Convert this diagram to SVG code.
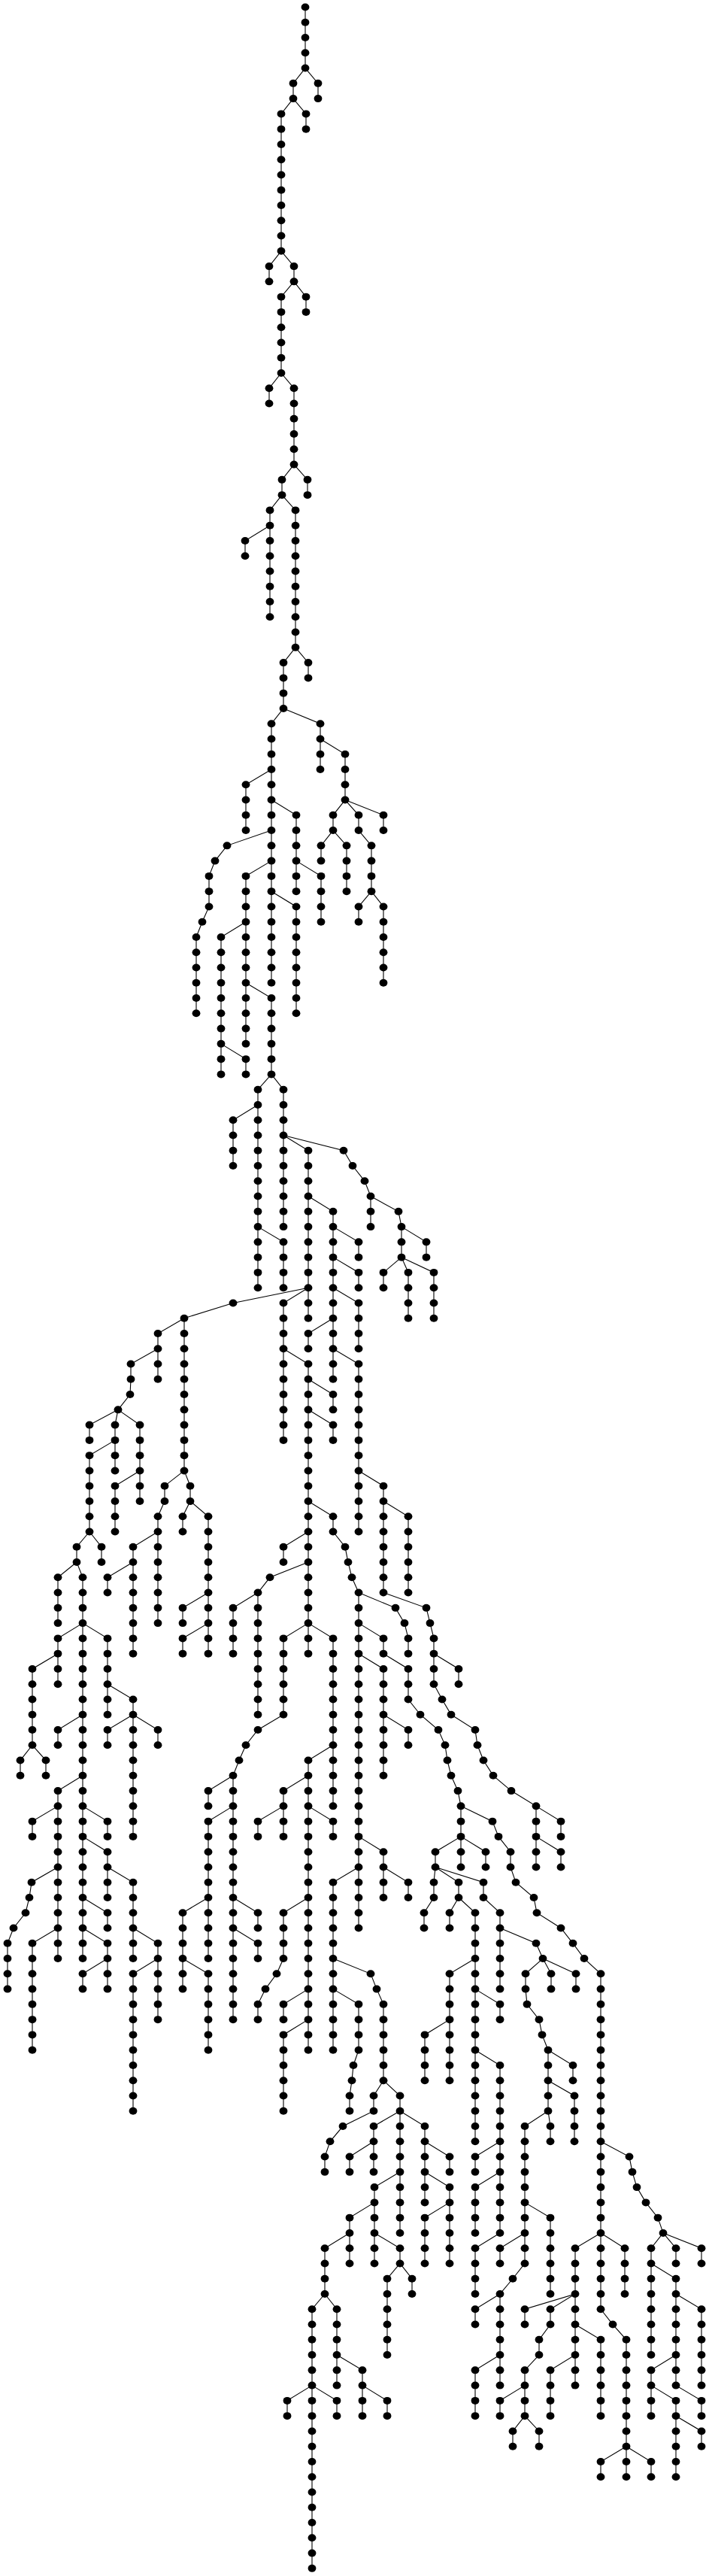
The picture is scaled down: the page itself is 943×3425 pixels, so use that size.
<svg xmlns="http://www.w3.org/2000/svg" width="943" height="3425" viewBox="0 0 943 3425">
<style>.e{fill:none;stroke:#000;stroke-width:1.1;vector-effect:non-scaling-stroke}</style>
<defs><ellipse id="d" cx="0" cy="0" rx="5.4" ry="0.2467" fill="#000"/></defs>
<rect width="943" height="3425" fill="#fff"/>
<g transform="translate(0 9.5) scale(1 20.27)">
<g id="connectors">
<path class="e" d="M406 0V4M406 4L423 5V6M406 4L390 5V6M390 6L407 7V8M390 6L374 7V16M374 16L358 17V18M374 16L391 17V18M391 18L407 19V20M391 18L374 19V24M374 24L358 25V26M374 24L391 25V30M391 30L409 31V32M391 30L375 31V32M375 32L359 33V40M359 34L326 35V36M375 32L393 33V42M393 42L410 43V44M393 42L377 43V46
M377 46L361 47V64M377 46L426 47V50M426 48L459 49V52M459 52L443 53V54M459 52L477 53V54M459 52L510 53V54M443 54L427 55V56M443 54L461 55V58M477 54L494 55V58M494 58L477 59V60M494 58L510 59V64M361 50L327 51V54M361 52L394 53V58M394 56L427 57V60M361 54L302 55L286 56L278 57V59L269 60L261 61V66M361 56L327 57V68M361 58L394 59V66M327 60L294 61V70M294 68L327 69V70M327 64L361 65V70
M361 70L343 71V84M361 70L377 71V80M343 72L310 73V76M377 74L410 75V86M377 74L457 75L469 76L485 77L493 78V80M493 78L530 79L534 80V82M534 80L567 81V82M534 82L510 83V84M534 82L543 83V86M534 82L577 83V86M343 80L377 81V84M410 78L443 79V90M443 80L477 81V82M443 82L477 83V84M443 84L477 85V88M443 86L410 87V88M443 88L477 89V100M410 84L377 85V94M377 88L410 89V108M410 90L443 91V92M410 92L443 93V94
M410 98L443 99V100L459 101L463 102L468 103L477 104V126M477 96L510 97V104M510 98L543 99V104M510 104L567 105L572 106L577 107V110L588 111L600 112L632 113L635 114L643 115L656 116L680 117L713 118V122M477 104L526 105L538 106L543 107V108M477 106L510 107V108M410 100L377 101V102M410 102L359 103L343 104V112M410 106L377 107V112M410 106L443 107V118
M410 84L310 85L245 86V96M245 86L210 87V90M210 88L174 89V90L173 91L157 92M157 92L119 93V94M157 92L153 93V96M157 92L186 93V98M153 94L119 95V100M186 96L153 97V100M119 100L135 101V102M119 100L102 101V102M102 102L77 103V106M110 106L77 107V110M102 102L110 103V128M110 106L143 107V112M245 96L219 97V98L210 99V106M210 100L177 101V108M177 102L143 103V104M245 96L253 97V98M253 98L243 99V100M253 98L277 99V108M277 104L243 105V106M277 106L243 107V108M343 104L310 105V108
M77 108L43 109V114M43 114L27 115V116M43 114L61 115V116M110 112L77 113V114M110 116L77 117V128M77 118L43 119V120M77 122L42 123L39 124L34 125L18 126L10 127V130M77 126L43 127V134M143 110L177 111V120M177 112L143 113V114M177 112L210 113V114M110 118L143 119V120M110 120L143 121V124M143 122L177 123V128M177 126L210 127V132M210 128L177 129V138M110 124L143 125V126M110 126L143 127V130M143 128L110 129V130
M377 112L343 113L327 114L318 115L310 116V132M310 116L277 117V118M310 118L277 119V128M277 124L243 125V130M243 128L277 129V134M310 124L343 125V126M310 126L343 127V128M410 116L377 117V120M377 118L343 119V120M410 124L377 125V128L368 129L353 130L343 131V132M410 130L377 131V132M410 132L377 133V138
M443 114L410 115V134M410 118L443 119V120M477 122L443 123V134M477 108L510 109V116M510 108L543 109V111L559 112L583 113L592 114L595 115L600 116L609 117L613 118V122M510 112L543 113V114M477 120L510 121V124M510 122L543 123V124M577 108L610 109V110M713 118L746 119V120M713 120L746 121V122M613 118L655 119L663 120L679 121V122L686 123L710 124L714 125L746 126L762 127L777 128L799 129V151M613 120L579 121V122M613 120L646 121V122M579 122L577 123V124L564 125V126M579 122L610 123V124M579 122L643 123V124L665 125V130M610 124L598 125V126M610 124L632 125V140
M665 126L713 127L722 128M722 128L733 129V130M722 128L766 129V130M722 128L699 129V130L701 131L717 132L721 133L729 134V138M729 134L762 135V136M729 136L764 137V140M729 138L698 139V148M729 138L732 139V140M632 128L598 129V136M598 132L565 133V136M632 130L665 131V132M632 134L665 135V146
M443 128L493 129L501 130L510 131V136M443 130L477 131V134L470 135L468 136L465 137V138M510 136L497 137V138L456 139L439 140L432 141V142M510 136L532 137V138M532 138L497 139V142M532 138V146M532 138L565 139V144M497 140L465 141V142M532 142L498 143V148M498 144L465 145V148M498 146L532 147V148M532 148L515 149V154M532 148L548 149V150M465 146L432 147V150M432 150L415 151V168M432 150L448 151V156M448 154L482 155V158M482 156L515 157V158M415 156L382 157V158M415 156L448 157V158
M565 140L598 141V142M565 142L598 143V148M598 144L565 145V148M665 140L632 141V142M665 142L632 143V146M665 146L632 147V150M665 150L632 151V152M665 154L632 155V158M698 146L665 147V148M698 148L682 149L665 150V156M698 156L665 157V158M698 144L732 145V150M765 150L698 151V152M765 150L732 151V152L717 153V154M717 154L698 155V158M698 158L682 159V160M698 158L717 159V160M765 154L732 155V158M799 146L765 147V156M799 146L831 147V150M799 151L815 152L833 153V162M765 152L799 153V158M833 160L799 161V162M833 160L866 161V162M799 140L837 141L841 142L847 143L859 144L875 145L882 146M882 146L866 147V154M882 146L899 147V148M882 146L933 147V148M866 148L899 149V156M899 150L933 151V156M899 154L866 155V158M866 156L899 157V162M899 156L933 157V158M899 158L933 159V160"/>
</g>
<g id="nodes">
<use id="n406_0" href="#d" x="406" y="0"/><use id="n406_1" href="#d" x="406" y="1"/><use id="n406_2" href="#d" x="406" y="2"/><use id="n406_3" href="#d" x="406" y="3"/><use id="n406_4" href="#d" x="406" y="4"/>
<use id="n423_5" href="#d" x="423" y="5"/><use id="n423_6" href="#d" x="423" y="6"/>
<use id="n390_5" href="#d" x="390" y="5"/><use id="n390_6" href="#d" x="390" y="6"/>
<use id="n407_7" href="#d" x="407" y="7"/><use id="n407_8" href="#d" x="407" y="8"/>
<use id="n374_7" href="#d" x="374" y="7"/><use id="n374_8" href="#d" x="374" y="8"/><use id="n374_9" href="#d" x="374" y="9"/><use id="n374_10" href="#d" x="374" y="10"/><use id="n374_11" href="#d" x="374" y="11"/><use id="n374_12" href="#d" x="374" y="12"/><use id="n374_13" href="#d" x="374" y="13"/><use id="n374_14" href="#d" x="374" y="14"/><use id="n374_15" href="#d" x="374" y="15"/><use id="n374_16" href="#d" x="374" y="16"/>
<use id="n358_17" href="#d" x="358" y="17"/><use id="n358_18" href="#d" x="358" y="18"/>
<use id="n391_17" href="#d" x="391" y="17"/><use id="n391_18" href="#d" x="391" y="18"/>
<use id="n407_19" href="#d" x="407" y="19"/><use id="n407_20" href="#d" x="407" y="20"/>
<use id="n374_19" href="#d" x="374" y="19"/><use id="n374_20" href="#d" x="374" y="20"/><use id="n374_21" href="#d" x="374" y="21"/><use id="n374_22" href="#d" x="374" y="22"/><use id="n374_23" href="#d" x="374" y="23"/><use id="n374_24" href="#d" x="374" y="24"/>
<use id="n358_25" href="#d" x="358" y="25"/><use id="n358_26" href="#d" x="358" y="26"/>
<use id="n391_25" href="#d" x="391" y="25"/><use id="n391_26" href="#d" x="391" y="26"/><use id="n391_27" href="#d" x="391" y="27"/><use id="n391_28" href="#d" x="391" y="28"/><use id="n391_29" href="#d" x="391" y="29"/><use id="n391_30" href="#d" x="391" y="30"/>
<use id="n409_31" href="#d" x="409" y="31"/><use id="n409_32" href="#d" x="409" y="32"/>
<use id="n375_31" href="#d" x="375" y="31"/><use id="n375_32" href="#d" x="375" y="32"/>
<use id="n359_33" href="#d" x="359" y="33"/><use id="n359_34" href="#d" x="359" y="34"/><use id="n359_35" href="#d" x="359" y="35"/><use id="n359_36" href="#d" x="359" y="36"/><use id="n359_37" href="#d" x="359" y="37"/><use id="n359_38" href="#d" x="359" y="38"/><use id="n359_39" href="#d" x="359" y="39"/><use id="n359_40" href="#d" x="359" y="40"/>
<use id="n326_35" href="#d" x="326" y="35"/><use id="n326_36" href="#d" x="326" y="36"/>
<use id="n393_33" href="#d" x="393" y="33"/><use id="n393_34" href="#d" x="393" y="34"/><use id="n393_35" href="#d" x="393" y="35"/><use id="n393_36" href="#d" x="393" y="36"/><use id="n393_37" href="#d" x="393" y="37"/><use id="n393_38" href="#d" x="393" y="38"/><use id="n393_39" href="#d" x="393" y="39"/><use id="n393_40" href="#d" x="393" y="40"/><use id="n393_41" href="#d" x="393" y="41"/><use id="n393_42" href="#d" x="393" y="42"/>
<use id="n410_43" href="#d" x="410" y="43"/><use id="n410_44" href="#d" x="410" y="44"/>
<use id="n377_43" href="#d" x="377" y="43"/><use id="n377_44" href="#d" x="377" y="44"/><use id="n377_45" href="#d" x="377" y="45"/><use id="n377_46" href="#d" x="377" y="46"/>
<use id="n361_47" href="#d" x="361" y="47"/><use id="n361_48" href="#d" x="361" y="48"/><use id="n361_49" href="#d" x="361" y="49"/><use id="n361_50" href="#d" x="361" y="50"/><use id="n361_51" href="#d" x="361" y="51"/><use id="n361_52" href="#d" x="361" y="52"/><use id="n361_53" href="#d" x="361" y="53"/><use id="n361_54" href="#d" x="361" y="54"/><use id="n361_55" href="#d" x="361" y="55"/><use id="n361_56" href="#d" x="361" y="56"/><use id="n361_57" href="#d" x="361" y="57"/><use id="n361_58" href="#d" x="361" y="58"/><use id="n361_59" href="#d" x="361" y="59"/><use id="n361_60" href="#d" x="361" y="60"/><use id="n361_61" href="#d" x="361" y="61"/><use id="n361_62" href="#d" x="361" y="62"/><use id="n361_63" href="#d" x="361" y="63"/><use id="n361_64" href="#d" x="361" y="64"/>
<use id="n426_47" href="#d" x="426" y="47"/><use id="n426_48" href="#d" x="426" y="48"/><use id="n426_49" href="#d" x="426" y="49"/><use id="n426_50" href="#d" x="426" y="50"/>
<use id="n459_49" href="#d" x="459" y="49"/><use id="n459_50" href="#d" x="459" y="50"/><use id="n459_51" href="#d" x="459" y="51"/><use id="n459_52" href="#d" x="459" y="52"/>
<use id="n443_53" href="#d" x="443" y="53"/><use id="n443_54" href="#d" x="443" y="54"/>
<use id="n477_53" href="#d" x="477" y="53"/><use id="n477_54" href="#d" x="477" y="54"/>
<use id="n510_53" href="#d" x="510" y="53"/><use id="n510_54" href="#d" x="510" y="54"/>
<use id="n427_55" href="#d" x="427" y="55"/><use id="n427_56" href="#d" x="427" y="56"/>
<use id="n461_55" href="#d" x="461" y="55"/><use id="n461_56" href="#d" x="461" y="56"/><use id="n461_57" href="#d" x="461" y="57"/><use id="n461_58" href="#d" x="461" y="58"/>
<use id="n494_55" href="#d" x="494" y="55"/><use id="n494_56" href="#d" x="494" y="56"/><use id="n494_57" href="#d" x="494" y="57"/><use id="n494_58" href="#d" x="494" y="58"/>
<use id="n477_59" href="#d" x="477" y="59"/><use id="n477_60" href="#d" x="477" y="60"/>
<use id="n510_59" href="#d" x="510" y="59"/><use id="n510_60" href="#d" x="510" y="60"/><use id="n510_61" href="#d" x="510" y="61"/><use id="n510_62" href="#d" x="510" y="62"/><use id="n510_63" href="#d" x="510" y="63"/><use id="n510_64" href="#d" x="510" y="64"/>
<use id="n327_51" href="#d" x="327" y="51"/><use id="n327_52" href="#d" x="327" y="52"/><use id="n327_53" href="#d" x="327" y="53"/><use id="n327_54" href="#d" x="327" y="54"/>
<use id="n394_53" href="#d" x="394" y="53"/><use id="n394_54" href="#d" x="394" y="54"/><use id="n394_55" href="#d" x="394" y="55"/><use id="n394_56" href="#d" x="394" y="56"/><use id="n394_57" href="#d" x="394" y="57"/><use id="n394_58" href="#d" x="394" y="58"/>
<use id="n427_57" href="#d" x="427" y="57"/><use id="n427_58" href="#d" x="427" y="58"/><use id="n427_59" href="#d" x="427" y="59"/><use id="n427_60" href="#d" x="427" y="60"/>
<use id="n302_55" href="#d" x="302" y="55"/><use id="n286_56" href="#d" x="286" y="56"/><use id="n278_57" href="#d" x="278" y="57"/><use id="n278_58" href="#d" x="278" y="58"/><use id="n278_59" href="#d" x="278" y="59"/><use id="n269_60" href="#d" x="269" y="60"/><use id="n261_61" href="#d" x="261" y="61"/><use id="n261_62" href="#d" x="261" y="62"/><use id="n261_63" href="#d" x="261" y="63"/><use id="n261_64" href="#d" x="261" y="64"/><use id="n261_65" href="#d" x="261" y="65"/><use id="n261_66" href="#d" x="261" y="66"/>
<use id="n327_57" href="#d" x="327" y="57"/><use id="n327_58" href="#d" x="327" y="58"/><use id="n327_59" href="#d" x="327" y="59"/><use id="n327_60" href="#d" x="327" y="60"/><use id="n327_61" href="#d" x="327" y="61"/><use id="n327_62" href="#d" x="327" y="62"/><use id="n327_63" href="#d" x="327" y="63"/><use id="n327_64" href="#d" x="327" y="64"/><use id="n327_65" href="#d" x="327" y="65"/><use id="n327_66" href="#d" x="327" y="66"/><use id="n327_67" href="#d" x="327" y="67"/><use id="n327_68" href="#d" x="327" y="68"/>
<use id="n394_59" href="#d" x="394" y="59"/><use id="n394_60" href="#d" x="394" y="60"/><use id="n394_61" href="#d" x="394" y="61"/><use id="n394_62" href="#d" x="394" y="62"/><use id="n394_63" href="#d" x="394" y="63"/><use id="n394_64" href="#d" x="394" y="64"/><use id="n394_65" href="#d" x="394" y="65"/><use id="n394_66" href="#d" x="394" y="66"/>
<use id="n294_61" href="#d" x="294" y="61"/><use id="n294_62" href="#d" x="294" y="62"/><use id="n294_63" href="#d" x="294" y="63"/><use id="n294_64" href="#d" x="294" y="64"/><use id="n294_65" href="#d" x="294" y="65"/><use id="n294_66" href="#d" x="294" y="66"/><use id="n294_67" href="#d" x="294" y="67"/><use id="n294_68" href="#d" x="294" y="68"/><use id="n294_69" href="#d" x="294" y="69"/><use id="n294_70" href="#d" x="294" y="70"/>
<use id="n327_69" href="#d" x="327" y="69"/><use id="n327_70" href="#d" x="327" y="70"/>
<use id="n361_65" href="#d" x="361" y="65"/><use id="n361_66" href="#d" x="361" y="66"/><use id="n361_67" href="#d" x="361" y="67"/><use id="n361_68" href="#d" x="361" y="68"/><use id="n361_69" href="#d" x="361" y="69"/><use id="n361_70" href="#d" x="361" y="70"/>
<use id="n343_71" href="#d" x="343" y="71"/><use id="n343_72" href="#d" x="343" y="72"/><use id="n343_73" href="#d" x="343" y="73"/><use id="n343_74" href="#d" x="343" y="74"/><use id="n343_75" href="#d" x="343" y="75"/><use id="n343_76" href="#d" x="343" y="76"/><use id="n343_77" href="#d" x="343" y="77"/><use id="n343_78" href="#d" x="343" y="78"/><use id="n343_79" href="#d" x="343" y="79"/><use id="n343_80" href="#d" x="343" y="80"/><use id="n343_81" href="#d" x="343" y="81"/><use id="n343_82" href="#d" x="343" y="82"/><use id="n343_83" href="#d" x="343" y="83"/><use id="n343_84" href="#d" x="343" y="84"/>
<use id="n377_71" href="#d" x="377" y="71"/><use id="n377_72" href="#d" x="377" y="72"/><use id="n377_73" href="#d" x="377" y="73"/><use id="n377_74" href="#d" x="377" y="74"/><use id="n377_75" href="#d" x="377" y="75"/><use id="n377_76" href="#d" x="377" y="76"/><use id="n377_77" href="#d" x="377" y="77"/><use id="n377_78" href="#d" x="377" y="78"/><use id="n377_79" href="#d" x="377" y="79"/><use id="n377_80" href="#d" x="377" y="80"/>
<use id="n310_73" href="#d" x="310" y="73"/><use id="n310_74" href="#d" x="310" y="74"/><use id="n310_75" href="#d" x="310" y="75"/><use id="n310_76" href="#d" x="310" y="76"/>
<use id="n410_75" href="#d" x="410" y="75"/><use id="n410_76" href="#d" x="410" y="76"/><use id="n410_77" href="#d" x="410" y="77"/><use id="n410_78" href="#d" x="410" y="78"/><use id="n410_79" href="#d" x="410" y="79"/><use id="n410_80" href="#d" x="410" y="80"/><use id="n410_81" href="#d" x="410" y="81"/><use id="n410_82" href="#d" x="410" y="82"/><use id="n410_83" href="#d" x="410" y="83"/><use id="n410_84" href="#d" x="410" y="84"/><use id="n410_85" href="#d" x="410" y="85"/><use id="n410_86" href="#d" x="410" y="86"/>
<use id="n457_75" href="#d" x="457" y="75"/><use id="n469_76" href="#d" x="469" y="76"/><use id="n485_77" href="#d" x="485" y="77"/><use id="n493_78" href="#d" x="493" y="78"/><use id="n493_79" href="#d" x="493" y="79"/><use id="n493_80" href="#d" x="493" y="80"/>
<use id="n530_79" href="#d" x="530" y="79"/><use id="n534_80" href="#d" x="534" y="80"/><use id="n534_81" href="#d" x="534" y="81"/><use id="n534_82" href="#d" x="534" y="82"/>
<use id="n567_81" href="#d" x="567" y="81"/><use id="n567_82" href="#d" x="567" y="82"/>
<use id="n510_83" href="#d" x="510" y="83"/><use id="n510_84" href="#d" x="510" y="84"/>
<use id="n543_83" href="#d" x="543" y="83"/><use id="n543_84" href="#d" x="543" y="84"/><use id="n543_85" href="#d" x="543" y="85"/><use id="n543_86" href="#d" x="543" y="86"/>
<use id="n577_83" href="#d" x="577" y="83"/><use id="n577_84" href="#d" x="577" y="84"/><use id="n577_85" href="#d" x="577" y="85"/><use id="n577_86" href="#d" x="577" y="86"/>
<use id="n377_81" href="#d" x="377" y="81"/><use id="n377_82" href="#d" x="377" y="82"/><use id="n377_83" href="#d" x="377" y="83"/><use id="n377_84" href="#d" x="377" y="84"/>
<use id="n443_79" href="#d" x="443" y="79"/><use id="n443_80" href="#d" x="443" y="80"/><use id="n443_81" href="#d" x="443" y="81"/><use id="n443_82" href="#d" x="443" y="82"/><use id="n443_83" href="#d" x="443" y="83"/><use id="n443_84" href="#d" x="443" y="84"/><use id="n443_85" href="#d" x="443" y="85"/><use id="n443_86" href="#d" x="443" y="86"/><use id="n443_87" href="#d" x="443" y="87"/><use id="n443_88" href="#d" x="443" y="88"/><use id="n443_89" href="#d" x="443" y="89"/><use id="n443_90" href="#d" x="443" y="90"/>
<use id="n477_81" href="#d" x="477" y="81"/><use id="n477_82" href="#d" x="477" y="82"/>
<use id="n477_83" href="#d" x="477" y="83"/><use id="n477_84" href="#d" x="477" y="84"/>
<use id="n477_85" href="#d" x="477" y="85"/><use id="n477_86" href="#d" x="477" y="86"/><use id="n477_87" href="#d" x="477" y="87"/><use id="n477_88" href="#d" x="477" y="88"/>
<use id="n410_87" href="#d" x="410" y="87"/><use id="n410_88" href="#d" x="410" y="88"/>
<use id="n477_89" href="#d" x="477" y="89"/><use id="n477_90" href="#d" x="477" y="90"/><use id="n477_91" href="#d" x="477" y="91"/><use id="n477_92" href="#d" x="477" y="92"/><use id="n477_93" href="#d" x="477" y="93"/><use id="n477_94" href="#d" x="477" y="94"/><use id="n477_95" href="#d" x="477" y="95"/><use id="n477_96" href="#d" x="477" y="96"/><use id="n477_97" href="#d" x="477" y="97"/><use id="n477_98" href="#d" x="477" y="98"/><use id="n477_99" href="#d" x="477" y="99"/><use id="n477_100" href="#d" x="477" y="100"/>
<use id="n377_85" href="#d" x="377" y="85"/><use id="n377_86" href="#d" x="377" y="86"/><use id="n377_87" href="#d" x="377" y="87"/><use id="n377_88" href="#d" x="377" y="88"/><use id="n377_89" href="#d" x="377" y="89"/><use id="n377_90" href="#d" x="377" y="90"/><use id="n377_91" href="#d" x="377" y="91"/><use id="n377_92" href="#d" x="377" y="92"/><use id="n377_93" href="#d" x="377" y="93"/><use id="n377_94" href="#d" x="377" y="94"/>
<use id="n410_89" href="#d" x="410" y="89"/><use id="n410_90" href="#d" x="410" y="90"/><use id="n410_91" href="#d" x="410" y="91"/><use id="n410_92" href="#d" x="410" y="92"/><use id="n410_93" href="#d" x="410" y="93"/><use id="n410_94" href="#d" x="410" y="94"/><use id="n410_95" href="#d" x="410" y="95"/><use id="n410_96" href="#d" x="410" y="96"/><use id="n410_97" href="#d" x="410" y="97"/><use id="n410_98" href="#d" x="410" y="98"/><use id="n410_99" href="#d" x="410" y="99"/><use id="n410_100" href="#d" x="410" y="100"/><use id="n410_101" href="#d" x="410" y="101"/><use id="n410_102" href="#d" x="410" y="102"/><use id="n410_103" href="#d" x="410" y="103"/><use id="n410_104" href="#d" x="410" y="104"/><use id="n410_105" href="#d" x="410" y="105"/><use id="n410_106" href="#d" x="410" y="106"/><use id="n410_107" href="#d" x="410" y="107"/><use id="n410_108" href="#d" x="410" y="108"/>
<use id="n443_91" href="#d" x="443" y="91"/><use id="n443_92" href="#d" x="443" y="92"/>
<use id="n443_93" href="#d" x="443" y="93"/><use id="n443_94" href="#d" x="443" y="94"/>
<use id="n443_99" href="#d" x="443" y="99"/><use id="n443_100" href="#d" x="443" y="100"/><use id="n459_101" href="#d" x="459" y="101"/><use id="n463_102" href="#d" x="463" y="102"/><use id="n468_103" href="#d" x="468" y="103"/>
<use id="n477_104" href="#d" x="477" y="104"/><use id="n477_105" href="#d" x="477" y="105"/><use id="n477_106" href="#d" x="477" y="106"/><use id="n477_107" href="#d" x="477" y="107"/><use id="n477_108" href="#d" x="477" y="108"/><use id="n477_109" href="#d" x="477" y="109"/><use id="n477_110" href="#d" x="477" y="110"/><use id="n477_111" href="#d" x="477" y="111"/><use id="n477_112" href="#d" x="477" y="112"/><use id="n477_113" href="#d" x="477" y="113"/><use id="n477_114" href="#d" x="477" y="114"/><use id="n477_115" href="#d" x="477" y="115"/><use id="n477_116" href="#d" x="477" y="116"/><use id="n477_117" href="#d" x="477" y="117"/><use id="n477_118" href="#d" x="477" y="118"/><use id="n477_119" href="#d" x="477" y="119"/><use id="n477_120" href="#d" x="477" y="120"/><use id="n477_121" href="#d" x="477" y="121"/><use id="n477_122" href="#d" x="477" y="122"/><use id="n477_123" href="#d" x="477" y="123"/><use id="n477_124" href="#d" x="477" y="124"/><use id="n477_125" href="#d" x="477" y="125"/><use id="n477_126" href="#d" x="477" y="126"/>
<use id="n510_97" href="#d" x="510" y="97"/><use id="n510_98" href="#d" x="510" y="98"/><use id="n510_99" href="#d" x="510" y="99"/><use id="n510_100" href="#d" x="510" y="100"/><use id="n510_101" href="#d" x="510" y="101"/><use id="n510_102" href="#d" x="510" y="102"/><use id="n510_103" href="#d" x="510" y="103"/><use id="n510_104" href="#d" x="510" y="104"/>
<use id="n543_99" href="#d" x="543" y="99"/><use id="n543_100" href="#d" x="543" y="100"/><use id="n543_101" href="#d" x="543" y="101"/><use id="n543_102" href="#d" x="543" y="102"/><use id="n543_103" href="#d" x="543" y="103"/><use id="n543_104" href="#d" x="543" y="104"/>
<use id="n567_105" href="#d" x="567" y="105"/><use id="n572_106" href="#d" x="572" y="106"/><use id="n577_107" href="#d" x="577" y="107"/><use id="n577_108" href="#d" x="577" y="108"/><use id="n577_109" href="#d" x="577" y="109"/><use id="n577_110" href="#d" x="577" y="110"/><use id="n588_111" href="#d" x="588" y="111"/><use id="n600_112" href="#d" x="600" y="112"/><use id="n632_113" href="#d" x="632" y="113"/><use id="n635_114" href="#d" x="635" y="114"/><use id="n643_115" href="#d" x="643" y="115"/><use id="n656_116" href="#d" x="656" y="116"/><use id="n680_117" href="#d" x="680" y="117"/><use id="n713_118" href="#d" x="713" y="118"/><use id="n713_119" href="#d" x="713" y="119"/><use id="n713_120" href="#d" x="713" y="120"/><use id="n713_121" href="#d" x="713" y="121"/><use id="n713_122" href="#d" x="713" y="122"/>
<use id="n526_105" href="#d" x="526" y="105"/><use id="n538_106" href="#d" x="538" y="106"/><use id="n543_107" href="#d" x="543" y="107"/><use id="n543_108" href="#d" x="543" y="108"/>
<use id="n510_107" href="#d" x="510" y="107"/><use id="n510_108" href="#d" x="510" y="108"/>
<use id="n377_101" href="#d" x="377" y="101"/><use id="n377_102" href="#d" x="377" y="102"/>
<use id="n359_103" href="#d" x="359" y="103"/><use id="n343_104" href="#d" x="343" y="104"/><use id="n343_105" href="#d" x="343" y="105"/><use id="n343_106" href="#d" x="343" y="106"/><use id="n343_107" href="#d" x="343" y="107"/><use id="n343_108" href="#d" x="343" y="108"/><use id="n343_109" href="#d" x="343" y="109"/><use id="n343_110" href="#d" x="343" y="110"/><use id="n343_111" href="#d" x="343" y="111"/><use id="n343_112" href="#d" x="343" y="112"/>
<use id="n377_107" href="#d" x="377" y="107"/><use id="n377_108" href="#d" x="377" y="108"/><use id="n377_109" href="#d" x="377" y="109"/><use id="n377_110" href="#d" x="377" y="110"/><use id="n377_111" href="#d" x="377" y="111"/><use id="n377_112" href="#d" x="377" y="112"/>
<use id="n443_107" href="#d" x="443" y="107"/><use id="n443_108" href="#d" x="443" y="108"/><use id="n443_109" href="#d" x="443" y="109"/><use id="n443_110" href="#d" x="443" y="110"/><use id="n443_111" href="#d" x="443" y="111"/><use id="n443_112" href="#d" x="443" y="112"/><use id="n443_113" href="#d" x="443" y="113"/><use id="n443_114" href="#d" x="443" y="114"/><use id="n443_115" href="#d" x="443" y="115"/><use id="n443_116" href="#d" x="443" y="116"/><use id="n443_117" href="#d" x="443" y="117"/><use id="n443_118" href="#d" x="443" y="118"/>
<use id="n310_85" href="#d" x="310" y="85"/><use id="n245_86" href="#d" x="245" y="86"/><use id="n245_87" href="#d" x="245" y="87"/><use id="n245_88" href="#d" x="245" y="88"/><use id="n245_89" href="#d" x="245" y="89"/><use id="n245_90" href="#d" x="245" y="90"/><use id="n245_91" href="#d" x="245" y="91"/><use id="n245_92" href="#d" x="245" y="92"/><use id="n245_93" href="#d" x="245" y="93"/><use id="n245_94" href="#d" x="245" y="94"/><use id="n245_95" href="#d" x="245" y="95"/><use id="n245_96" href="#d" x="245" y="96"/>
<use id="n210_87" href="#d" x="210" y="87"/><use id="n210_88" href="#d" x="210" y="88"/><use id="n210_89" href="#d" x="210" y="89"/><use id="n210_90" href="#d" x="210" y="90"/>
<use id="n174_89" href="#d" x="174" y="89"/><use id="n174_90" href="#d" x="174" y="90"/><use id="n173_91" href="#d" x="173" y="91"/><use id="n157_92" href="#d" x="157" y="92"/>
<use id="n119_93" href="#d" x="119" y="93"/><use id="n119_94" href="#d" x="119" y="94"/>
<use id="n153_93" href="#d" x="153" y="93"/><use id="n153_94" href="#d" x="153" y="94"/><use id="n153_95" href="#d" x="153" y="95"/><use id="n153_96" href="#d" x="153" y="96"/>
<use id="n186_93" href="#d" x="186" y="93"/><use id="n186_94" href="#d" x="186" y="94"/><use id="n186_95" href="#d" x="186" y="95"/><use id="n186_96" href="#d" x="186" y="96"/><use id="n186_97" href="#d" x="186" y="97"/><use id="n186_98" href="#d" x="186" y="98"/>
<use id="n119_95" href="#d" x="119" y="95"/><use id="n119_96" href="#d" x="119" y="96"/><use id="n119_97" href="#d" x="119" y="97"/><use id="n119_98" href="#d" x="119" y="98"/><use id="n119_99" href="#d" x="119" y="99"/><use id="n119_100" href="#d" x="119" y="100"/>
<use id="n153_97" href="#d" x="153" y="97"/><use id="n153_98" href="#d" x="153" y="98"/><use id="n153_99" href="#d" x="153" y="99"/><use id="n153_100" href="#d" x="153" y="100"/>
<use id="n135_101" href="#d" x="135" y="101"/><use id="n135_102" href="#d" x="135" y="102"/>
<use id="n102_101" href="#d" x="102" y="101"/><use id="n102_102" href="#d" x="102" y="102"/>
<use id="n77_103" href="#d" x="77" y="103"/><use id="n77_104" href="#d" x="77" y="104"/><use id="n77_105" href="#d" x="77" y="105"/><use id="n77_106" href="#d" x="77" y="106"/>
<use id="n77_107" href="#d" x="77" y="107"/><use id="n77_108" href="#d" x="77" y="108"/><use id="n77_109" href="#d" x="77" y="109"/><use id="n77_110" href="#d" x="77" y="110"/>
<use id="n110_103" href="#d" x="110" y="103"/><use id="n110_104" href="#d" x="110" y="104"/><use id="n110_105" href="#d" x="110" y="105"/><use id="n110_106" href="#d" x="110" y="106"/><use id="n110_107" href="#d" x="110" y="107"/><use id="n110_108" href="#d" x="110" y="108"/><use id="n110_109" href="#d" x="110" y="109"/><use id="n110_110" href="#d" x="110" y="110"/><use id="n110_111" href="#d" x="110" y="111"/><use id="n110_112" href="#d" x="110" y="112"/><use id="n110_113" href="#d" x="110" y="113"/><use id="n110_114" href="#d" x="110" y="114"/><use id="n110_115" href="#d" x="110" y="115"/><use id="n110_116" href="#d" x="110" y="116"/><use id="n110_117" href="#d" x="110" y="117"/><use id="n110_118" href="#d" x="110" y="118"/><use id="n110_119" href="#d" x="110" y="119"/><use id="n110_120" href="#d" x="110" y="120"/><use id="n110_121" href="#d" x="110" y="121"/><use id="n110_122" href="#d" x="110" y="122"/><use id="n110_123" href="#d" x="110" y="123"/><use id="n110_124" href="#d" x="110" y="124"/><use id="n110_125" href="#d" x="110" y="125"/><use id="n110_126" href="#d" x="110" y="126"/><use id="n110_127" href="#d" x="110" y="127"/><use id="n110_128" href="#d" x="110" y="128"/>
<use id="n143_107" href="#d" x="143" y="107"/><use id="n143_108" href="#d" x="143" y="108"/><use id="n143_109" href="#d" x="143" y="109"/><use id="n143_110" href="#d" x="143" y="110"/><use id="n143_111" href="#d" x="143" y="111"/><use id="n143_112" href="#d" x="143" y="112"/>
<use id="n219_97" href="#d" x="219" y="97"/><use id="n219_98" href="#d" x="219" y="98"/><use id="n210_99" href="#d" x="210" y="99"/><use id="n210_100" href="#d" x="210" y="100"/><use id="n210_101" href="#d" x="210" y="101"/><use id="n210_102" href="#d" x="210" y="102"/><use id="n210_103" href="#d" x="210" y="103"/><use id="n210_104" href="#d" x="210" y="104"/><use id="n210_105" href="#d" x="210" y="105"/><use id="n210_106" href="#d" x="210" y="106"/>
<use id="n177_101" href="#d" x="177" y="101"/><use id="n177_102" href="#d" x="177" y="102"/><use id="n177_103" href="#d" x="177" y="103"/><use id="n177_104" href="#d" x="177" y="104"/><use id="n177_105" href="#d" x="177" y="105"/><use id="n177_106" href="#d" x="177" y="106"/><use id="n177_107" href="#d" x="177" y="107"/><use id="n177_108" href="#d" x="177" y="108"/>
<use id="n143_103" href="#d" x="143" y="103"/><use id="n143_104" href="#d" x="143" y="104"/>
<use id="n253_97" href="#d" x="253" y="97"/><use id="n253_98" href="#d" x="253" y="98"/>
<use id="n243_99" href="#d" x="243" y="99"/><use id="n243_100" href="#d" x="243" y="100"/>
<use id="n277_99" href="#d" x="277" y="99"/><use id="n277_100" href="#d" x="277" y="100"/><use id="n277_101" href="#d" x="277" y="101"/><use id="n277_102" href="#d" x="277" y="102"/><use id="n277_103" href="#d" x="277" y="103"/><use id="n277_104" href="#d" x="277" y="104"/><use id="n277_105" href="#d" x="277" y="105"/><use id="n277_106" href="#d" x="277" y="106"/><use id="n277_107" href="#d" x="277" y="107"/><use id="n277_108" href="#d" x="277" y="108"/>
<use id="n243_105" href="#d" x="243" y="105"/><use id="n243_106" href="#d" x="243" y="106"/>
<use id="n243_107" href="#d" x="243" y="107"/><use id="n243_108" href="#d" x="243" y="108"/>
<use id="n310_105" href="#d" x="310" y="105"/><use id="n310_106" href="#d" x="310" y="106"/><use id="n310_107" href="#d" x="310" y="107"/><use id="n310_108" href="#d" x="310" y="108"/>
<use id="n43_109" href="#d" x="43" y="109"/><use id="n43_110" href="#d" x="43" y="110"/><use id="n43_111" href="#d" x="43" y="111"/><use id="n43_112" href="#d" x="43" y="112"/><use id="n43_113" href="#d" x="43" y="113"/><use id="n43_114" href="#d" x="43" y="114"/>
<use id="n27_115" href="#d" x="27" y="115"/><use id="n27_116" href="#d" x="27" y="116"/>
<use id="n61_115" href="#d" x="61" y="115"/><use id="n61_116" href="#d" x="61" y="116"/>
<use id="n77_113" href="#d" x="77" y="113"/><use id="n77_114" href="#d" x="77" y="114"/>
<use id="n77_117" href="#d" x="77" y="117"/><use id="n77_118" href="#d" x="77" y="118"/><use id="n77_119" href="#d" x="77" y="119"/><use id="n77_120" href="#d" x="77" y="120"/><use id="n77_121" href="#d" x="77" y="121"/><use id="n77_122" href="#d" x="77" y="122"/><use id="n77_123" href="#d" x="77" y="123"/><use id="n77_124" href="#d" x="77" y="124"/><use id="n77_125" href="#d" x="77" y="125"/><use id="n77_126" href="#d" x="77" y="126"/><use id="n77_127" href="#d" x="77" y="127"/><use id="n77_128" href="#d" x="77" y="128"/>
<use id="n43_119" href="#d" x="43" y="119"/><use id="n43_120" href="#d" x="43" y="120"/>
<use id="n42_123" href="#d" x="42" y="123"/><use id="n39_124" href="#d" x="39" y="124"/><use id="n34_125" href="#d" x="34" y="125"/><use id="n18_126" href="#d" x="18" y="126"/><use id="n10_127" href="#d" x="10" y="127"/><use id="n10_128" href="#d" x="10" y="128"/><use id="n10_129" href="#d" x="10" y="129"/><use id="n10_130" href="#d" x="10" y="130"/>
<use id="n43_127" href="#d" x="43" y="127"/><use id="n43_128" href="#d" x="43" y="128"/><use id="n43_129" href="#d" x="43" y="129"/><use id="n43_130" href="#d" x="43" y="130"/><use id="n43_131" href="#d" x="43" y="131"/><use id="n43_132" href="#d" x="43" y="132"/><use id="n43_133" href="#d" x="43" y="133"/><use id="n43_134" href="#d" x="43" y="134"/>
<use id="n177_111" href="#d" x="177" y="111"/><use id="n177_112" href="#d" x="177" y="112"/><use id="n177_113" href="#d" x="177" y="113"/><use id="n177_114" href="#d" x="177" y="114"/><use id="n177_115" href="#d" x="177" y="115"/><use id="n177_116" href="#d" x="177" y="116"/><use id="n177_117" href="#d" x="177" y="117"/><use id="n177_118" href="#d" x="177" y="118"/><use id="n177_119" href="#d" x="177" y="119"/><use id="n177_120" href="#d" x="177" y="120"/>
<use id="n143_113" href="#d" x="143" y="113"/><use id="n143_114" href="#d" x="143" y="114"/>
<use id="n210_113" href="#d" x="210" y="113"/><use id="n210_114" href="#d" x="210" y="114"/>
<use id="n143_119" href="#d" x="143" y="119"/><use id="n143_120" href="#d" x="143" y="120"/>
<use id="n143_121" href="#d" x="143" y="121"/><use id="n143_122" href="#d" x="143" y="122"/><use id="n143_123" href="#d" x="143" y="123"/><use id="n143_124" href="#d" x="143" y="124"/>
<use id="n177_123" href="#d" x="177" y="123"/><use id="n177_124" href="#d" x="177" y="124"/><use id="n177_125" href="#d" x="177" y="125"/><use id="n177_126" href="#d" x="177" y="126"/><use id="n177_127" href="#d" x="177" y="127"/><use id="n177_128" href="#d" x="177" y="128"/>
<use id="n210_127" href="#d" x="210" y="127"/><use id="n210_128" href="#d" x="210" y="128"/><use id="n210_129" href="#d" x="210" y="129"/><use id="n210_130" href="#d" x="210" y="130"/><use id="n210_131" href="#d" x="210" y="131"/><use id="n210_132" href="#d" x="210" y="132"/>
<use id="n177_129" href="#d" x="177" y="129"/><use id="n177_130" href="#d" x="177" y="130"/><use id="n177_131" href="#d" x="177" y="131"/><use id="n177_132" href="#d" x="177" y="132"/><use id="n177_133" href="#d" x="177" y="133"/><use id="n177_134" href="#d" x="177" y="134"/><use id="n177_135" href="#d" x="177" y="135"/><use id="n177_136" href="#d" x="177" y="136"/><use id="n177_137" href="#d" x="177" y="137"/><use id="n177_138" href="#d" x="177" y="138"/>
<use id="n143_125" href="#d" x="143" y="125"/><use id="n143_126" href="#d" x="143" y="126"/>
<use id="n143_127" href="#d" x="143" y="127"/><use id="n143_128" href="#d" x="143" y="128"/><use id="n143_129" href="#d" x="143" y="129"/><use id="n143_130" href="#d" x="143" y="130"/>
<use id="n110_129" href="#d" x="110" y="129"/><use id="n110_130" href="#d" x="110" y="130"/>
<use id="n343_113" href="#d" x="343" y="113"/><use id="n327_114" href="#d" x="327" y="114"/><use id="n318_115" href="#d" x="318" y="115"/><use id="n310_116" href="#d" x="310" y="116"/><use id="n310_117" href="#d" x="310" y="117"/><use id="n310_118" href="#d" x="310" y="118"/><use id="n310_119" href="#d" x="310" y="119"/><use id="n310_120" href="#d" x="310" y="120"/><use id="n310_121" href="#d" x="310" y="121"/><use id="n310_122" href="#d" x="310" y="122"/><use id="n310_123" href="#d" x="310" y="123"/><use id="n310_124" href="#d" x="310" y="124"/><use id="n310_125" href="#d" x="310" y="125"/><use id="n310_126" href="#d" x="310" y="126"/><use id="n310_127" href="#d" x="310" y="127"/><use id="n310_128" href="#d" x="310" y="128"/><use id="n310_129" href="#d" x="310" y="129"/><use id="n310_130" href="#d" x="310" y="130"/><use id="n310_131" href="#d" x="310" y="131"/><use id="n310_132" href="#d" x="310" y="132"/>
<use id="n277_117" href="#d" x="277" y="117"/><use id="n277_118" href="#d" x="277" y="118"/>
<use id="n277_119" href="#d" x="277" y="119"/><use id="n277_120" href="#d" x="277" y="120"/><use id="n277_121" href="#d" x="277" y="121"/><use id="n277_122" href="#d" x="277" y="122"/><use id="n277_123" href="#d" x="277" y="123"/><use id="n277_124" href="#d" x="277" y="124"/><use id="n277_125" href="#d" x="277" y="125"/><use id="n277_126" href="#d" x="277" y="126"/><use id="n277_127" href="#d" x="277" y="127"/><use id="n277_128" href="#d" x="277" y="128"/>
<use id="n243_125" href="#d" x="243" y="125"/><use id="n243_126" href="#d" x="243" y="126"/><use id="n243_127" href="#d" x="243" y="127"/><use id="n243_128" href="#d" x="243" y="128"/><use id="n243_129" href="#d" x="243" y="129"/><use id="n243_130" href="#d" x="243" y="130"/>
<use id="n277_129" href="#d" x="277" y="129"/><use id="n277_130" href="#d" x="277" y="130"/><use id="n277_131" href="#d" x="277" y="131"/><use id="n277_132" href="#d" x="277" y="132"/><use id="n277_133" href="#d" x="277" y="133"/><use id="n277_134" href="#d" x="277" y="134"/>
<use id="n343_125" href="#d" x="343" y="125"/><use id="n343_126" href="#d" x="343" y="126"/>
<use id="n343_127" href="#d" x="343" y="127"/><use id="n343_128" href="#d" x="343" y="128"/>
<use id="n377_117" href="#d" x="377" y="117"/><use id="n377_118" href="#d" x="377" y="118"/><use id="n377_119" href="#d" x="377" y="119"/><use id="n377_120" href="#d" x="377" y="120"/>
<use id="n343_119" href="#d" x="343" y="119"/><use id="n343_120" href="#d" x="343" y="120"/>
<use id="n377_125" href="#d" x="377" y="125"/><use id="n377_126" href="#d" x="377" y="126"/><use id="n377_127" href="#d" x="377" y="127"/><use id="n377_128" href="#d" x="377" y="128"/><use id="n368_129" href="#d" x="368" y="129"/><use id="n353_130" href="#d" x="353" y="130"/><use id="n343_131" href="#d" x="343" y="131"/><use id="n343_132" href="#d" x="343" y="132"/>
<use id="n377_131" href="#d" x="377" y="131"/><use id="n377_132" href="#d" x="377" y="132"/>
<use id="n377_133" href="#d" x="377" y="133"/><use id="n377_134" href="#d" x="377" y="134"/><use id="n377_135" href="#d" x="377" y="135"/><use id="n377_136" href="#d" x="377" y="136"/><use id="n377_137" href="#d" x="377" y="137"/><use id="n377_138" href="#d" x="377" y="138"/>
<use id="n410_115" href="#d" x="410" y="115"/><use id="n410_116" href="#d" x="410" y="116"/><use id="n410_117" href="#d" x="410" y="117"/><use id="n410_118" href="#d" x="410" y="118"/><use id="n410_119" href="#d" x="410" y="119"/><use id="n410_120" href="#d" x="410" y="120"/><use id="n410_121" href="#d" x="410" y="121"/><use id="n410_122" href="#d" x="410" y="122"/><use id="n410_123" href="#d" x="410" y="123"/><use id="n410_124" href="#d" x="410" y="124"/><use id="n410_125" href="#d" x="410" y="125"/><use id="n410_126" href="#d" x="410" y="126"/><use id="n410_127" href="#d" x="410" y="127"/><use id="n410_128" href="#d" x="410" y="128"/><use id="n410_129" href="#d" x="410" y="129"/><use id="n410_130" href="#d" x="410" y="130"/><use id="n410_131" href="#d" x="410" y="131"/><use id="n410_132" href="#d" x="410" y="132"/><use id="n410_133" href="#d" x="410" y="133"/><use id="n410_134" href="#d" x="410" y="134"/>
<use id="n443_119" href="#d" x="443" y="119"/><use id="n443_120" href="#d" x="443" y="120"/>
<use id="n443_123" href="#d" x="443" y="123"/><use id="n443_124" href="#d" x="443" y="124"/><use id="n443_125" href="#d" x="443" y="125"/><use id="n443_126" href="#d" x="443" y="126"/><use id="n443_127" href="#d" x="443" y="127"/><use id="n443_128" href="#d" x="443" y="128"/><use id="n443_129" href="#d" x="443" y="129"/><use id="n443_130" href="#d" x="443" y="130"/><use id="n443_131" href="#d" x="443" y="131"/><use id="n443_132" href="#d" x="443" y="132"/><use id="n443_133" href="#d" x="443" y="133"/><use id="n443_134" href="#d" x="443" y="134"/>
<use id="n510_109" href="#d" x="510" y="109"/><use id="n510_110" href="#d" x="510" y="110"/><use id="n510_111" href="#d" x="510" y="111"/><use id="n510_112" href="#d" x="510" y="112"/><use id="n510_113" href="#d" x="510" y="113"/><use id="n510_114" href="#d" x="510" y="114"/><use id="n510_115" href="#d" x="510" y="115"/><use id="n510_116" href="#d" x="510" y="116"/>
<use id="n543_109" href="#d" x="543" y="109"/><use id="n543_110" href="#d" x="543" y="110"/><use id="n543_111" href="#d" x="543" y="111"/><use id="n559_112" href="#d" x="559" y="112"/><use id="n583_113" href="#d" x="583" y="113"/><use id="n592_114" href="#d" x="592" y="114"/><use id="n595_115" href="#d" x="595" y="115"/><use id="n600_116" href="#d" x="600" y="116"/><use id="n609_117" href="#d" x="609" y="117"/><use id="n613_118" href="#d" x="613" y="118"/><use id="n613_119" href="#d" x="613" y="119"/><use id="n613_120" href="#d" x="613" y="120"/><use id="n613_121" href="#d" x="613" y="121"/><use id="n613_122" href="#d" x="613" y="122"/>
<use id="n543_113" href="#d" x="543" y="113"/><use id="n543_114" href="#d" x="543" y="114"/>
<use id="n510_121" href="#d" x="510" y="121"/><use id="n510_122" href="#d" x="510" y="122"/><use id="n510_123" href="#d" x="510" y="123"/><use id="n510_124" href="#d" x="510" y="124"/>
<use id="n543_123" href="#d" x="543" y="123"/><use id="n543_124" href="#d" x="543" y="124"/>
<use id="n610_109" href="#d" x="610" y="109"/><use id="n610_110" href="#d" x="610" y="110"/>
<use id="n746_119" href="#d" x="746" y="119"/><use id="n746_120" href="#d" x="746" y="120"/>
<use id="n746_121" href="#d" x="746" y="121"/><use id="n746_122" href="#d" x="746" y="122"/>
<use id="n655_119" href="#d" x="655" y="119"/><use id="n663_120" href="#d" x="663" y="120"/><use id="n679_121" href="#d" x="679" y="121"/><use id="n679_122" href="#d" x="679" y="122"/><use id="n686_123" href="#d" x="686" y="123"/><use id="n710_124" href="#d" x="710" y="124"/><use id="n714_125" href="#d" x="714" y="125"/><use id="n746_126" href="#d" x="746" y="126"/><use id="n762_127" href="#d" x="762" y="127"/><use id="n777_128" href="#d" x="777" y="128"/>
<use id="n799_129" href="#d" x="799" y="129"/><use id="n799_130" href="#d" x="799" y="130"/><use id="n799_131" href="#d" x="799" y="131"/><use id="n799_132" href="#d" x="799" y="132"/><use id="n799_133" href="#d" x="799" y="133"/><use id="n799_134" href="#d" x="799" y="134"/><use id="n799_135" href="#d" x="799" y="135"/><use id="n799_136" href="#d" x="799" y="136"/><use id="n799_137" href="#d" x="799" y="137"/><use id="n799_138" href="#d" x="799" y="138"/><use id="n799_139" href="#d" x="799" y="139"/><use id="n799_140" href="#d" x="799" y="140"/><use id="n799_141" href="#d" x="799" y="141"/><use id="n799_142" href="#d" x="799" y="142"/><use id="n799_143" href="#d" x="799" y="143"/><use id="n799_144" href="#d" x="799" y="144"/><use id="n799_145" href="#d" x="799" y="145"/><use id="n799_146" href="#d" x="799" y="146"/><use id="n799_147" href="#d" x="799" y="147"/><use id="n799_148" href="#d" x="799" y="148"/><use id="n799_149" href="#d" x="799" y="149"/><use id="n799_150" href="#d" x="799" y="150"/><use id="n799_151" href="#d" x="799" y="151"/>
<use id="n579_121" href="#d" x="579" y="121"/><use id="n579_122" href="#d" x="579" y="122"/>
<use id="n646_121" href="#d" x="646" y="121"/><use id="n646_122" href="#d" x="646" y="122"/>
<use id="n577_123" href="#d" x="577" y="123"/><use id="n577_124" href="#d" x="577" y="124"/><use id="n564_125" href="#d" x="564" y="125"/><use id="n564_126" href="#d" x="564" y="126"/>
<use id="n610_123" href="#d" x="610" y="123"/><use id="n610_124" href="#d" x="610" y="124"/>
<use id="n643_123" href="#d" x="643" y="123"/><use id="n643_124" href="#d" x="643" y="124"/><use id="n665_125" href="#d" x="665" y="125"/><use id="n665_126" href="#d" x="665" y="126"/><use id="n665_127" href="#d" x="665" y="127"/><use id="n665_128" href="#d" x="665" y="128"/><use id="n665_129" href="#d" x="665" y="129"/><use id="n665_130" href="#d" x="665" y="130"/>
<use id="n598_125" href="#d" x="598" y="125"/><use id="n598_126" href="#d" x="598" y="126"/>
<use id="n632_125" href="#d" x="632" y="125"/><use id="n632_126" href="#d" x="632" y="126"/><use id="n632_127" href="#d" x="632" y="127"/><use id="n632_128" href="#d" x="632" y="128"/><use id="n632_129" href="#d" x="632" y="129"/><use id="n632_130" href="#d" x="632" y="130"/><use id="n632_131" href="#d" x="632" y="131"/><use id="n632_132" href="#d" x="632" y="132"/><use id="n632_133" href="#d" x="632" y="133"/><use id="n632_134" href="#d" x="632" y="134"/><use id="n632_135" href="#d" x="632" y="135"/><use id="n632_136" href="#d" x="632" y="136"/><use id="n632_137" href="#d" x="632" y="137"/><use id="n632_138" href="#d" x="632" y="138"/><use id="n632_139" href="#d" x="632" y="139"/><use id="n632_140" href="#d" x="632" y="140"/>
<use id="n713_127" href="#d" x="713" y="127"/><use id="n722_128" href="#d" x="722" y="128"/>
<use id="n733_129" href="#d" x="733" y="129"/><use id="n733_130" href="#d" x="733" y="130"/>
<use id="n766_129" href="#d" x="766" y="129"/><use id="n766_130" href="#d" x="766" y="130"/>
<use id="n699_129" href="#d" x="699" y="129"/><use id="n699_130" href="#d" x="699" y="130"/><use id="n701_131" href="#d" x="701" y="131"/><use id="n717_132" href="#d" x="717" y="132"/><use id="n721_133" href="#d" x="721" y="133"/><use id="n729_134" href="#d" x="729" y="134"/><use id="n729_135" href="#d" x="729" y="135"/><use id="n729_136" href="#d" x="729" y="136"/><use id="n729_137" href="#d" x="729" y="137"/><use id="n729_138" href="#d" x="729" y="138"/>
<use id="n762_135" href="#d" x="762" y="135"/><use id="n762_136" href="#d" x="762" y="136"/>
<use id="n764_137" href="#d" x="764" y="137"/><use id="n764_138" href="#d" x="764" y="138"/><use id="n764_139" href="#d" x="764" y="139"/><use id="n764_140" href="#d" x="764" y="140"/>
<use id="n698_139" href="#d" x="698" y="139"/><use id="n698_140" href="#d" x="698" y="140"/><use id="n698_141" href="#d" x="698" y="141"/><use id="n698_142" href="#d" x="698" y="142"/><use id="n698_143" href="#d" x="698" y="143"/><use id="n698_144" href="#d" x="698" y="144"/><use id="n698_145" href="#d" x="698" y="145"/><use id="n698_146" href="#d" x="698" y="146"/><use id="n698_147" href="#d" x="698" y="147"/><use id="n698_148" href="#d" x="698" y="148"/>
<use id="n732_139" href="#d" x="732" y="139"/><use id="n732_140" href="#d" x="732" y="140"/>
<use id="n598_129" href="#d" x="598" y="129"/><use id="n598_130" href="#d" x="598" y="130"/><use id="n598_131" href="#d" x="598" y="131"/><use id="n598_132" href="#d" x="598" y="132"/><use id="n598_133" href="#d" x="598" y="133"/><use id="n598_134" href="#d" x="598" y="134"/><use id="n598_135" href="#d" x="598" y="135"/><use id="n598_136" href="#d" x="598" y="136"/>
<use id="n565_133" href="#d" x="565" y="133"/><use id="n565_134" href="#d" x="565" y="134"/><use id="n565_135" href="#d" x="565" y="135"/><use id="n565_136" href="#d" x="565" y="136"/>
<use id="n665_131" href="#d" x="665" y="131"/><use id="n665_132" href="#d" x="665" y="132"/>
<use id="n665_135" href="#d" x="665" y="135"/><use id="n665_136" href="#d" x="665" y="136"/><use id="n665_137" href="#d" x="665" y="137"/><use id="n665_138" href="#d" x="665" y="138"/><use id="n665_139" href="#d" x="665" y="139"/><use id="n665_140" href="#d" x="665" y="140"/><use id="n665_141" href="#d" x="665" y="141"/><use id="n665_142" href="#d" x="665" y="142"/><use id="n665_143" href="#d" x="665" y="143"/><use id="n665_144" href="#d" x="665" y="144"/><use id="n665_145" href="#d" x="665" y="145"/><use id="n665_146" href="#d" x="665" y="146"/>
<use id="n493_129" href="#d" x="493" y="129"/><use id="n501_130" href="#d" x="501" y="130"/><use id="n510_131" href="#d" x="510" y="131"/><use id="n510_132" href="#d" x="510" y="132"/><use id="n510_133" href="#d" x="510" y="133"/><use id="n510_134" href="#d" x="510" y="134"/><use id="n510_135" href="#d" x="510" y="135"/><use id="n510_136" href="#d" x="510" y="136"/>
<use id="n477_131" href="#d" x="477" y="131"/><use id="n477_132" href="#d" x="477" y="132"/><use id="n477_133" href="#d" x="477" y="133"/><use id="n477_134" href="#d" x="477" y="134"/><use id="n470_135" href="#d" x="470" y="135"/><use id="n468_136" href="#d" x="468" y="136"/><use id="n465_137" href="#d" x="465" y="137"/><use id="n465_138" href="#d" x="465" y="138"/>
<use id="n497_137" href="#d" x="497" y="137"/><use id="n497_138" href="#d" x="497" y="138"/><use id="n456_139" href="#d" x="456" y="139"/><use id="n439_140" href="#d" x="439" y="140"/><use id="n432_141" href="#d" x="432" y="141"/><use id="n432_142" href="#d" x="432" y="142"/>
<use id="n532_137" href="#d" x="532" y="137"/><use id="n532_138" href="#d" x="532" y="138"/>
<use id="n497_139" href="#d" x="497" y="139"/><use id="n497_140" href="#d" x="497" y="140"/><use id="n497_141" href="#d" x="497" y="141"/><use id="n497_142" href="#d" x="497" y="142"/>
<use id="n532_139" href="#d" x="532" y="139"/><use id="n532_140" href="#d" x="532" y="140"/><use id="n532_141" href="#d" x="532" y="141"/><use id="n532_142" href="#d" x="532" y="142"/><use id="n532_143" href="#d" x="532" y="143"/><use id="n532_144" href="#d" x="532" y="144"/><use id="n532_145" href="#d" x="532" y="145"/><use id="n532_146" href="#d" x="532" y="146"/>
<use id="n565_139" href="#d" x="565" y="139"/><use id="n565_140" href="#d" x="565" y="140"/><use id="n565_141" href="#d" x="565" y="141"/><use id="n565_142" href="#d" x="565" y="142"/><use id="n565_143" href="#d" x="565" y="143"/><use id="n565_144" href="#d" x="565" y="144"/>
<use id="n465_141" href="#d" x="465" y="141"/><use id="n465_142" href="#d" x="465" y="142"/>
<use id="n498_143" href="#d" x="498" y="143"/><use id="n498_144" href="#d" x="498" y="144"/><use id="n498_145" href="#d" x="498" y="145"/><use id="n498_146" href="#d" x="498" y="146"/><use id="n498_147" href="#d" x="498" y="147"/><use id="n498_148" href="#d" x="498" y="148"/>
<use id="n465_145" href="#d" x="465" y="145"/><use id="n465_146" href="#d" x="465" y="146"/><use id="n465_147" href="#d" x="465" y="147"/><use id="n465_148" href="#d" x="465" y="148"/>
<use id="n532_147" href="#d" x="532" y="147"/><use id="n532_148" href="#d" x="532" y="148"/>
<use id="n515_149" href="#d" x="515" y="149"/><use id="n515_150" href="#d" x="515" y="150"/><use id="n515_151" href="#d" x="515" y="151"/><use id="n515_152" href="#d" x="515" y="152"/><use id="n515_153" href="#d" x="515" y="153"/><use id="n515_154" href="#d" x="515" y="154"/>
<use id="n548_149" href="#d" x="548" y="149"/><use id="n548_150" href="#d" x="548" y="150"/>
<use id="n432_147" href="#d" x="432" y="147"/><use id="n432_148" href="#d" x="432" y="148"/><use id="n432_149" href="#d" x="432" y="149"/><use id="n432_150" href="#d" x="432" y="150"/>
<use id="n415_151" href="#d" x="415" y="151"/><use id="n415_152" href="#d" x="415" y="152"/><use id="n415_153" href="#d" x="415" y="153"/><use id="n415_154" href="#d" x="415" y="154"/><use id="n415_155" href="#d" x="415" y="155"/><use id="n415_156" href="#d" x="415" y="156"/><use id="n415_157" href="#d" x="415" y="157"/><use id="n415_158" href="#d" x="415" y="158"/><use id="n415_159" href="#d" x="415" y="159"/><use id="n415_160" href="#d" x="415" y="160"/><use id="n415_161" href="#d" x="415" y="161"/><use id="n415_162" href="#d" x="415" y="162"/><use id="n415_163" href="#d" x="415" y="163"/><use id="n415_164" href="#d" x="415" y="164"/><use id="n415_165" href="#d" x="415" y="165"/><use id="n415_166" href="#d" x="415" y="166"/><use id="n415_167" href="#d" x="415" y="167"/><use id="n415_168" href="#d" x="415" y="168"/>
<use id="n448_151" href="#d" x="448" y="151"/><use id="n448_152" href="#d" x="448" y="152"/><use id="n448_153" href="#d" x="448" y="153"/><use id="n448_154" href="#d" x="448" y="154"/><use id="n448_155" href="#d" x="448" y="155"/><use id="n448_156" href="#d" x="448" y="156"/>
<use id="n482_155" href="#d" x="482" y="155"/><use id="n482_156" href="#d" x="482" y="156"/><use id="n482_157" href="#d" x="482" y="157"/><use id="n482_158" href="#d" x="482" y="158"/>
<use id="n515_157" href="#d" x="515" y="157"/><use id="n515_158" href="#d" x="515" y="158"/>
<use id="n382_157" href="#d" x="382" y="157"/><use id="n382_158" href="#d" x="382" y="158"/>
<use id="n448_157" href="#d" x="448" y="157"/><use id="n448_158" href="#d" x="448" y="158"/>
<use id="n598_141" href="#d" x="598" y="141"/><use id="n598_142" href="#d" x="598" y="142"/>
<use id="n598_143" href="#d" x="598" y="143"/><use id="n598_144" href="#d" x="598" y="144"/><use id="n598_145" href="#d" x="598" y="145"/><use id="n598_146" href="#d" x="598" y="146"/><use id="n598_147" href="#d" x="598" y="147"/><use id="n598_148" href="#d" x="598" y="148"/>
<use id="n565_145" href="#d" x="565" y="145"/><use id="n565_146" href="#d" x="565" y="146"/><use id="n565_147" href="#d" x="565" y="147"/><use id="n565_148" href="#d" x="565" y="148"/>
<use id="n632_141" href="#d" x="632" y="141"/><use id="n632_142" href="#d" x="632" y="142"/>
<use id="n632_143" href="#d" x="632" y="143"/><use id="n632_144" href="#d" x="632" y="144"/><use id="n632_145" href="#d" x="632" y="145"/><use id="n632_146" href="#d" x="632" y="146"/>
<use id="n632_147" href="#d" x="632" y="147"/><use id="n632_148" href="#d" x="632" y="148"/><use id="n632_149" href="#d" x="632" y="149"/><use id="n632_150" href="#d" x="632" y="150"/>
<use id="n632_151" href="#d" x="632" y="151"/><use id="n632_152" href="#d" x="632" y="152"/>
<use id="n632_155" href="#d" x="632" y="155"/><use id="n632_156" href="#d" x="632" y="156"/><use id="n632_157" href="#d" x="632" y="157"/><use id="n632_158" href="#d" x="632" y="158"/>
<use id="n665_147" href="#d" x="665" y="147"/><use id="n665_148" href="#d" x="665" y="148"/>
<use id="n682_149" href="#d" x="682" y="149"/><use id="n665_150" href="#d" x="665" y="150"/><use id="n665_151" href="#d" x="665" y="151"/><use id="n665_152" href="#d" x="665" y="152"/><use id="n665_153" href="#d" x="665" y="153"/><use id="n665_154" href="#d" x="665" y="154"/><use id="n665_155" href="#d" x="665" y="155"/><use id="n665_156" href="#d" x="665" y="156"/>
<use id="n665_157" href="#d" x="665" y="157"/><use id="n665_158" href="#d" x="665" y="158"/>
<use id="n732_145" href="#d" x="732" y="145"/><use id="n732_146" href="#d" x="732" y="146"/><use id="n732_147" href="#d" x="732" y="147"/><use id="n732_148" href="#d" x="732" y="148"/><use id="n732_149" href="#d" x="732" y="149"/><use id="n732_150" href="#d" x="732" y="150"/>
<use id="n698_151" href="#d" x="698" y="151"/><use id="n698_152" href="#d" x="698" y="152"/>
<use id="n732_151" href="#d" x="732" y="151"/><use id="n732_152" href="#d" x="732" y="152"/><use id="n717_153" href="#d" x="717" y="153"/><use id="n717_154" href="#d" x="717" y="154"/>
<use id="n698_155" href="#d" x="698" y="155"/><use id="n698_156" href="#d" x="698" y="156"/><use id="n698_157" href="#d" x="698" y="157"/><use id="n698_158" href="#d" x="698" y="158"/>
<use id="n682_159" href="#d" x="682" y="159"/><use id="n682_160" href="#d" x="682" y="160"/>
<use id="n717_159" href="#d" x="717" y="159"/><use id="n717_160" href="#d" x="717" y="160"/>
<use id="n732_155" href="#d" x="732" y="155"/><use id="n732_156" href="#d" x="732" y="156"/><use id="n732_157" href="#d" x="732" y="157"/><use id="n732_158" href="#d" x="732" y="158"/>
<use id="n765_147" href="#d" x="765" y="147"/><use id="n765_148" href="#d" x="765" y="148"/><use id="n765_149" href="#d" x="765" y="149"/><use id="n765_150" href="#d" x="765" y="150"/><use id="n765_151" href="#d" x="765" y="151"/><use id="n765_152" href="#d" x="765" y="152"/><use id="n765_153" href="#d" x="765" y="153"/><use id="n765_154" href="#d" x="765" y="154"/><use id="n765_155" href="#d" x="765" y="155"/><use id="n765_156" href="#d" x="765" y="156"/>
<use id="n831_147" href="#d" x="831" y="147"/><use id="n831_148" href="#d" x="831" y="148"/><use id="n831_149" href="#d" x="831" y="149"/><use id="n831_150" href="#d" x="831" y="150"/>
<use id="n815_152" href="#d" x="815" y="152"/><use id="n833_153" href="#d" x="833" y="153"/><use id="n833_154" href="#d" x="833" y="154"/><use id="n833_155" href="#d" x="833" y="155"/><use id="n833_156" href="#d" x="833" y="156"/><use id="n833_157" href="#d" x="833" y="157"/><use id="n833_158" href="#d" x="833" y="158"/><use id="n833_159" href="#d" x="833" y="159"/><use id="n833_160" href="#d" x="833" y="160"/><use id="n833_161" href="#d" x="833" y="161"/><use id="n833_162" href="#d" x="833" y="162"/>
<use id="n799_153" href="#d" x="799" y="153"/><use id="n799_154" href="#d" x="799" y="154"/><use id="n799_155" href="#d" x="799" y="155"/><use id="n799_156" href="#d" x="799" y="156"/><use id="n799_157" href="#d" x="799" y="157"/><use id="n799_158" href="#d" x="799" y="158"/>
<use id="n799_161" href="#d" x="799" y="161"/><use id="n799_162" href="#d" x="799" y="162"/>
<use id="n866_161" href="#d" x="866" y="161"/><use id="n866_162" href="#d" x="866" y="162"/>
<use id="n837_141" href="#d" x="837" y="141"/><use id="n841_142" href="#d" x="841" y="142"/><use id="n847_143" href="#d" x="847" y="143"/><use id="n859_144" href="#d" x="859" y="144"/><use id="n875_145" href="#d" x="875" y="145"/><use id="n882_146" href="#d" x="882" y="146"/>
<use id="n866_147" href="#d" x="866" y="147"/><use id="n866_148" href="#d" x="866" y="148"/><use id="n866_149" href="#d" x="866" y="149"/><use id="n866_150" href="#d" x="866" y="150"/><use id="n866_151" href="#d" x="866" y="151"/><use id="n866_152" href="#d" x="866" y="152"/><use id="n866_153" href="#d" x="866" y="153"/><use id="n866_154" href="#d" x="866" y="154"/>
<use id="n899_147" href="#d" x="899" y="147"/><use id="n899_148" href="#d" x="899" y="148"/>
<use id="n933_147" href="#d" x="933" y="147"/><use id="n933_148" href="#d" x="933" y="148"/>
<use id="n899_149" href="#d" x="899" y="149"/><use id="n899_150" href="#d" x="899" y="150"/><use id="n899_151" href="#d" x="899" y="151"/><use id="n899_152" href="#d" x="899" y="152"/><use id="n899_153" href="#d" x="899" y="153"/><use id="n899_154" href="#d" x="899" y="154"/><use id="n899_155" href="#d" x="899" y="155"/><use id="n899_156" href="#d" x="899" y="156"/>
<use id="n933_151" href="#d" x="933" y="151"/><use id="n933_152" href="#d" x="933" y="152"/><use id="n933_153" href="#d" x="933" y="153"/><use id="n933_154" href="#d" x="933" y="154"/><use id="n933_155" href="#d" x="933" y="155"/><use id="n933_156" href="#d" x="933" y="156"/>
<use id="n866_155" href="#d" x="866" y="155"/><use id="n866_156" href="#d" x="866" y="156"/><use id="n866_157" href="#d" x="866" y="157"/><use id="n866_158" href="#d" x="866" y="158"/>
<use id="n899_157" href="#d" x="899" y="157"/><use id="n899_158" href="#d" x="899" y="158"/><use id="n899_159" href="#d" x="899" y="159"/><use id="n899_160" href="#d" x="899" y="160"/><use id="n899_161" href="#d" x="899" y="161"/><use id="n899_162" href="#d" x="899" y="162"/>
<use id="n933_157" href="#d" x="933" y="157"/><use id="n933_158" href="#d" x="933" y="158"/>
<use id="n933_159" href="#d" x="933" y="159"/><use id="n933_160" href="#d" x="933" y="160"/>
</g>
</g>
</svg>
